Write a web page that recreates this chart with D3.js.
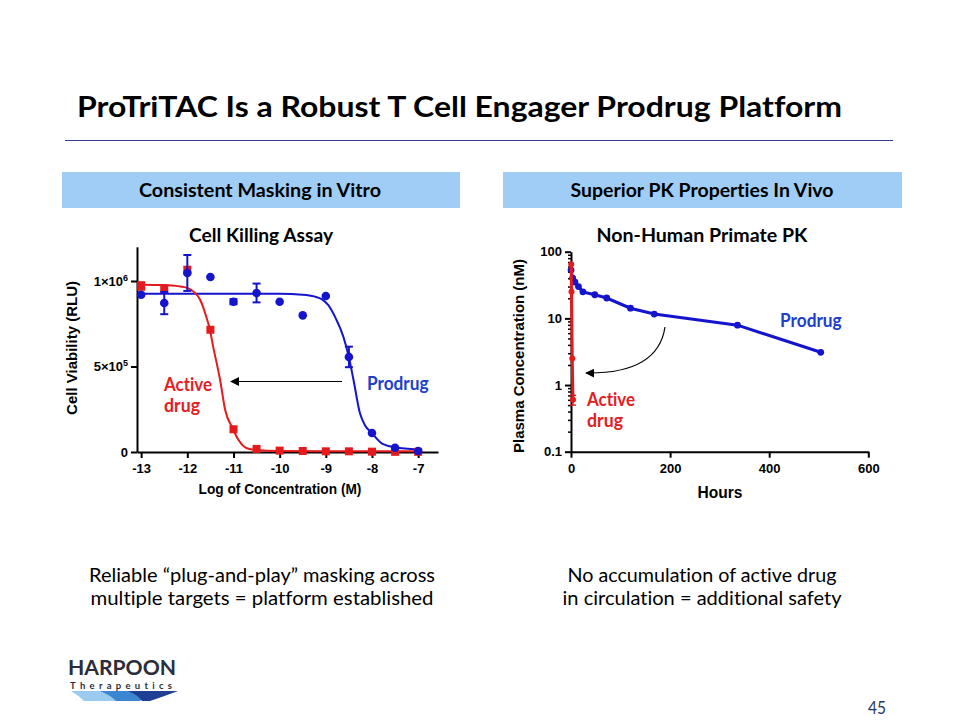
<!DOCTYPE html>
<html>
<head>
<meta charset="utf-8">
<script src="https://cdn.jsdelivr.net/npm/d3@7"></script>
<style>
  html, body { margin: 0; padding: 0; background: #fff; }
  svg { display: block; }
  text { font-variant-ligatures: none; font-feature-settings: "liga" 0, "clig" 0, "dlig" 0; }
</style>
</head>
<body>
<svg id="chart" width="960" height="720"></svg>
<script>
// ---------------- DATA ----------------
// Cell killing assay (log M concentration)
const logConc = [-13, -12.5, -12, -11.5, -11, -10.5, -10, -9.5, -9, -8.5, -8, -7.5, -7];
const prodrugViability = [920000, 871000, 1047000, 1023000, 879000, 930000, 879000, 799000, 912000, 556000, 111000, 25000, 6000];
const prodrugErr       = [0, 65000, 105000, 0, 15000, 55000, 0, 0, 0, 60000, 0, 0, 0];
const activeViability  = [971000, 955000, 1066000, 715000, 133000, 18000, 8000, 6000, 4000, 4000, 2000, 1000, 1000];
const activeErr        = [22000, 0, 0, 0, 0, 0, 0, 0, 0, 0, 0, 0, 0];
// fitted curves: [logM, RLU]
const activeFit = [[-13, 978000], [-12.5, 976000], [-12.2, 970000], [-12, 960000], [-11.85, 935000], [-11.72, 889000],
  [-11.6, 800000], [-11.51, 713000], [-11.44, 616000], [-11.29, 421000], [-11.18, 246000], [-11.02, 139000],
  [-10.89, 70000], [-10.71, 22000], [-10.5, 12000], [-10, 6000], [-8.5, 4000], [-7, 4000]];
const prodrugFit = [[-13, 925000], [-10, 925000], [-9.5, 920000], [-9.25, 910000], [-9.1, 895000], [-8.95, 860000],
  [-8.8, 790000], [-8.62, 674000], [-8.5, 554000], [-8.4, 421000], [-8.26, 226000], [-8.15, 155000], [-8.01, 113000],
  [-7.79, 51000], [-7.5, 28000], [-7, 15000]];
const leftXTicks = [-13, -12, -11, -10, -9, -8, -7];
const leftYTicks = [0, 500000, 1000000];

// Non-human primate PK
const pkProdrugHours = [0.083, 3.4, 8, 15, 24, 48, 72, 120, 168, 336, 504];
const pkProdrugConc  = [53, 40, 35, 30, 25, 22.6, 20.2, 14.2, 11.6, 7.9, 3.1];
const pkActiveHours  = [0.5, 1, 2.5, 4];
const pkActiveConc   = [65, 25, 2.5, 0.6];
const pkActiveErr    = [0, 0, 0, 0.1];
const rightXTicks = [0, 200, 400, 600];
const rightYTicks = [0.1, 1, 10, 100];

// ---------------- STYLE ----------------
const BLUE = "#1414cc", RED = "#e41a1c";
const LBLUE = "#2040cc", LRED = "#e3201f";
const CAL = "Lato, 'Open Sans', sans-serif";
const ARIAL = "'Liberation Sans', Arial, sans-serif";
const svg = d3.select("#chart");

function fitText(sel, w) {
  const node = sel.node();
  const fs = parseFloat(sel.attr("font-size"));
  const len = node.getComputedTextLength();
  if (len > 0) sel.attr("font-size", (fs * w / len).toFixed(2));
  return sel;
}
// keep font height, squeeze/stretch width to match the reference
function txt(x, y, s, o) {
  const t = svg.append("text").attr("x", x).attr("y", y).text(s)
    .attr("font-family", o.font || CAL).attr("font-size", o.size || 16)
    .attr("font-weight", o.weight || "normal").attr("fill", o.fill || "#000")
    .attr("text-anchor", o.anchor || "start");
  if (o.w) t.attr("textLength", o.w).attr("lengthAdjust", o.adj || "spacingAndGlyphs");
  return t;
}

// ---------------- SLIDE DECOR ----------------
txt(77, 117, "ProTriTAC Is a Robust T Cell Engager Prodrug Platform", {size: 29, weight: "bold", w: 765});
svg.append("line").attr("x1", 65).attr("x2", 893).attr("y1", 140.5).attr("y2", 140.5)
  .attr("stroke", "#2e3a96").attr("stroke-width", 1);

svg.append("rect").attr("x", 62).attr("y", 172).attr("width", 398).attr("height", 36).attr("fill", "#9fcdf5");
svg.append("rect").attr("x", 503).attr("y", 172).attr("width", 399).attr("height", 36).attr("fill", "#9fcdf5");
txt(260, 197, "Consistent Masking in Vitro", {size: 19, weight: "bold", anchor: "middle", w: 242});
txt(702, 197, "Superior PK Properties In Vivo", {size: 19, weight: "bold", anchor: "middle", w: 263});

txt(261, 242, "Cell Killing Assay", {size: 19, weight: "bold", anchor: "middle", w: 144});
txt(702, 242, "Non-Human Primate PK", {size: 19, weight: "bold", anchor: "middle", w: 211});

txt(262, 582, "Reliable \u201cplug-and-play\u201d masking across", {size: 18.5, anchor: "middle", w: 346});
txt(262, 605, "multiple targets = platform established", {size: 18.5, anchor: "middle", w: 343});
txt(702, 582, "No accumulation of active drug", {size: 18.5, anchor: "middle", w: 269});
txt(702, 605, "in circulation = additional safety", {size: 18.5, anchor: "middle", w: 279});

txt(886, 714, "45", {size: 17, fill: "#1f3864", anchor: "end", w: 18});

// Logo
txt(68, 675, "HARPOON", {size: 20, weight: "bold", fill: "#2b2d3a", w: 108});
txt(70, 688.5, "Therapeutics", {size: 9.5, weight: "bold", fill: "#2b2d3a", w: 102, adj: "spacing"});
svg.append("path").attr("d", "M71,691 L112,691 Q118,696 122,701 L84,701 Q78,695 71,691 Z").attr("fill", "#9ccbf0");
svg.append("path").attr("d", "M100,691 L150,691 Q146,696 140,701 L116,701 Q110,695 100,691 Z").attr("fill", "#3a86d0");
svg.append("path").attr("d", "M128,691 L178,691 Q165,696 150,701 L142,701 Q138,695 128,691 Z").attr("fill", "#1f3f94");

// ---------------- LEFT CHART ----------------
const xL = d3.scaleLinear().domain([-13.09, -6.57]).range([137, 438]);
const yL = d3.scaleLinear().domain([0, 1200000]).range([452, 246.8]);

const gxL = svg.append("g").attr("transform", "translate(0,452)")
  .call(d3.axisBottom(xL).tickValues(leftXTicks).tickSize(6).tickSizeOuter(0).tickFormat(d3.format("d")));
const gyL = svg.append("g").attr("transform", "translate(137,0)")
  .call(d3.axisLeft(yL).tickValues(leftYTicks).tickSize(6).tickSizeOuter(0).tickFormat(() => ""));
[gxL, gyL].forEach(g => {
  g.select(".domain").attr("stroke", "#000").attr("stroke-width", 2);
  g.selectAll(".tick line").attr("stroke", "#000").attr("stroke-width", 2);
  g.selectAll(".tick text").attr("font-family", ARIAL).attr("font-weight", "bold").attr("font-size", 13).attr("fill", "#000");
});
gxL.selectAll(".tick text").text(d => String(d)).attr("dy", "0.95em");
gyL.selectAll(".tick text").each(function(d) {
  const t = d3.select(this).text(null).attr("dy", "0.32em");
  if (d === 0) { t.text("0"); return; }
  t.append("tspan").text(d === 1000000 ? "1\u00d710" : "5\u00d710");
  t.append("tspan").attr("dy", -5).attr("font-size", 9).text(d === 1000000 ? "6" : "5");
});

svg.append("text").attr("transform", "translate(77,348) rotate(-90)").attr("text-anchor", "middle")
  .attr("font-family", ARIAL).attr("font-weight", "bold").attr("font-size", 13).text("Cell Viability (RLU)")
  .call(s => fitText(s, 134));
svg.append("text").attr("x", 280).attr("y", 494).attr("text-anchor", "middle")
  .attr("font-family", ARIAL).attr("font-weight", "bold").attr("font-size", 13).text("Log of Concentration (M)")
  .call(s => fitText(s, 163));

const lineL = d3.line().x(d => xL(d[0])).y(d => yL(d[1])).curve(d3.curveMonotoneX);
svg.append("path").datum(prodrugFit).attr("d", lineL).attr("fill", "none").attr("stroke", BLUE).attr("stroke-width", 2);
svg.append("path").datum(activeFit).attr("d", lineL).attr("fill", "none").attr("stroke", RED).attr("stroke-width", 2);

function errBars(xs, ys, es, xs_, ys_, color, cap, w) {
  const g = svg.append("g").attr("stroke", color).attr("stroke-width", w);
  xs.forEach((x, i) => {
    if (!es[i]) return;
    const px = xs_(x), y1 = ys_(ys[i] + es[i]), y2 = ys_(Math.max(ys[i] - es[i], 1e-9));
    g.append("line").attr("x1", px).attr("x2", px).attr("y1", y1).attr("y2", y2);
    g.append("line").attr("x1", px - cap).attr("x2", px + cap).attr("y1", y1).attr("y2", y1);
    g.append("line").attr("x1", px - cap).attr("x2", px + cap).attr("y1", y2).attr("y2", y2);
  });
}
errBars(logConc, activeViability, activeErr, xL, yL, RED, 4, 2);
svg.append("g").selectAll("rect").data(logConc).join("rect")
  .attr("x", d => xL(d) - 4).attr("y", (d, i) => yL(activeViability[i]) - 4)
  .attr("width", 8).attr("height", 8).attr("fill", RED);
errBars(logConc, prodrugViability, prodrugErr, xL, yL, BLUE, 4, 2);
svg.append("g").selectAll("circle").data(logConc).join("circle")
  .attr("cx", d => xL(d)).attr("cy", (d, i) => yL(prodrugViability[i])).attr("r", 4.3).attr("fill", BLUE);

// arrow heads
const defs = svg.append("defs");
defs.append("marker").attr("id", "ah").attr("viewBox", "0 0 10 10").attr("refX", 9).attr("refY", 5)
  .attr("markerWidth", 9).attr("markerHeight", 9).attr("markerUnits", "userSpaceOnUse").attr("orient", "auto")
  .append("path").attr("d", "M0,0 L10,5 L0,10 Z").attr("fill", "#000");
svg.append("line").attr("x1", 342).attr("x2", 231).attr("y1", 381.5).attr("y2", 381.5)
  .attr("stroke", "#000").attr("stroke-width", 1.2).attr("marker-end", "url(#ah)");

txt(164, 391, "Active", {size: 18.5, weight: "bold", fill: LRED, w: 48});
txt(164, 412, "drug", {size: 18.5, weight: "bold", fill: LRED, w: 36});
txt(367, 390, "Prodrug", {size: 18.5, weight: "bold", fill: LBLUE, w: 61.6});

// ---------------- RIGHT CHART ----------------
const xR = d3.scaleLinear().domain([0, 600]).range([571, 868.3]);
const yR = d3.scaleLog().domain([0.1, 100]).range([451.7, 251.7]);

const minor = [];
[0.1, 1, 10].forEach(b => { for (let k = 2; k <= 9; k++) minor.push(b * k); });
const gyRm = svg.append("g").attr("transform", "translate(571,0)")
  .call(d3.axisLeft(yR).tickValues(minor).tickSize(3).tickSizeOuter(0).tickFormat(() => ""));
gyRm.select(".domain").remove();
gyRm.selectAll(".tick line").attr("stroke", "#000").attr("stroke-width", 1.5);

const gxR = svg.append("g").attr("transform", "translate(0,451.7)")
  .call(d3.axisBottom(xR).tickValues(rightXTicks).tickSize(6).tickSizeOuter(0).tickFormat(d3.format("d")));
const gyR = svg.append("g").attr("transform", "translate(571,0)")
  .call(d3.axisLeft(yR).tickValues(rightYTicks).tickSize(6).tickSizeOuter(0).tickFormat(d => String(d)));
[gxR, gyR].forEach(g => {
  g.select(".domain").attr("stroke", "#000").attr("stroke-width", 2);
  g.selectAll(".tick line").attr("stroke", "#000").attr("stroke-width", 2);
  g.selectAll(".tick text").attr("font-family", ARIAL).attr("font-weight", "bold").attr("font-size", 13).attr("fill", "#000");
});
gxR.selectAll(".tick text").attr("dy", "0.95em");

svg.append("text").attr("transform", "translate(524,356) rotate(-90)").attr("text-anchor", "middle")
  .attr("font-family", ARIAL).attr("font-weight", "bold").attr("font-size", 13).text("Plasma Concentration (nM)")
  .call(s => fitText(s, 194));
svg.append("text").attr("x", 720).attr("y", 498).attr("text-anchor", "middle")
  .attr("font-family", ARIAL).attr("font-weight", "bold").attr("font-size", 14).text("Hours")
  .call(s => fitText(s, 45));

const pkP = pkProdrugHours.map((h, i) => [h, pkProdrugConc[i]]);
const pkA = pkActiveHours.map((h, i) => [h, pkActiveConc[i]]);
const lineR = d3.line().x(d => xR(d[0])).y(d => yR(d[1]));
svg.append("path").datum(pkP).attr("d", lineR).attr("fill", "none").attr("stroke", BLUE).attr("stroke-width", 3);
svg.append("g").selectAll("circle").data(pkP).join("circle")
  .attr("cx", d => xR(d[0])).attr("cy", d => yR(d[1])).attr("r", 3.4).attr("fill", BLUE);
svg.append("path").datum(pkA).attr("d", lineR).attr("fill", "none").attr("stroke", RED).attr("stroke-width", 3);
errBars(pkActiveHours, pkActiveConc, pkActiveErr, xR, yR, RED, 3, 1.5);
svg.append("g").selectAll("circle").data(pkA).join("circle")
  .attr("cx", d => xR(d[0])).attr("cy", d => yR(d[1])).attr("r", 3).attr("fill", RED);

// curved arrow
svg.append("path").attr("d", "M665,327 Q658,374 586,373").attr("fill", "none")
  .attr("stroke", "#000").attr("stroke-width", 1.2).attr("marker-end", "url(#ah)");

txt(780, 327, "Prodrug", {size: 18.5, weight: "bold", fill: LBLUE, w: 61.7});
txt(587, 406, "Active", {size: 18.5, weight: "bold", fill: LRED, w: 48});
txt(587, 427, "drug", {size: 18.5, weight: "bold", fill: LRED, w: 36});
</script>
</body>
</html>
